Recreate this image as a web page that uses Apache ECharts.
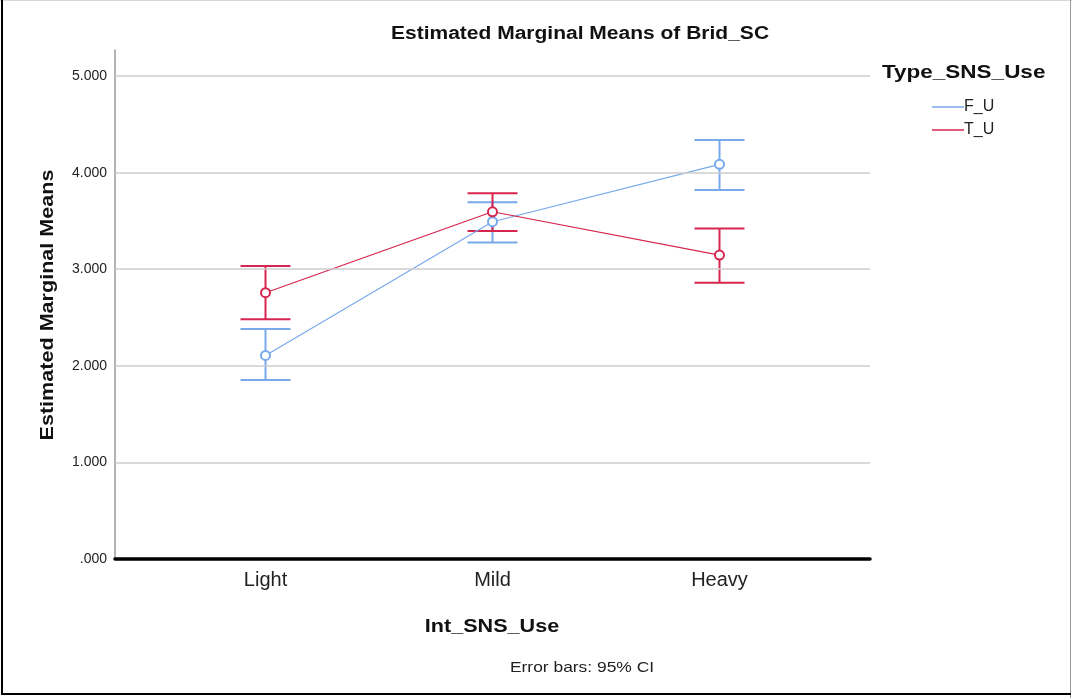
<!DOCTYPE html>
<html>
<head>
<meta charset="utf-8">
<script src="https://cdn.jsdelivr.net/npm/echarts@6/dist/echarts.min.js"></script>
<style>
  html, body { margin: 0; padding: 0; background: #fff; }
  #chart { width: 1072px; height: 698px; }
</style>
</head>
<body>
<div id="chart"></div>
<script>
// Int_SNS_Use levels on the x axis
const categories = ['Light', 'Mild', 'Heavy'];
const groupNames = ['F_U', 'T_U'];

// Estimated marginal means of Brid_SC with 95% CI bounds
const fuMean  = [2.108, 3.492, 4.086];
const fuLower = [1.853, 3.278, 3.820];
const fuUpper = [2.381, 3.693, 4.337];

const tuMean  = [2.757, 3.595, 3.147];
const tuLower = [2.481, 3.395, 2.860];
const tuUpper = [3.033, 3.786, 3.423];

const yTicks = [0, 1, 2, 3, 4, 5];
const gridValues = [1, 2, 3, 4, 5];

const BLUE = '#78a9ea';
const RED = '#d6254e';
const FONT = '"Liberation Sans", Arial, sans-serif';

function fmtTick(v) {
  const s = v.toFixed(3);
  return s.startsWith('0.') ? s.slice(1) : s;
}

function pointData(means) {
  return means.map((m, i) => [i + 1, m]);
}
function barData(lower, upper) {
  return lower.map((lo, i) => [i + 1, lo, upper[i]]);
}

function errorBar(color) {
  return function (params, api) {
    const x = api.value(0);
    const lo = api.coord([x, api.value(1)]);
    const hi = api.coord([x, api.value(2)]);
    const w = 25;
    const style = { stroke: color, lineWidth: 2 };
    return {
      type: 'group',
      children: [
        { type: 'line', shape: { x1: lo[0], y1: lo[1], x2: hi[0], y2: hi[1] }, style },
        { type: 'line', shape: { x1: hi[0] - w, y1: hi[1], x2: hi[0] + w, y2: hi[1] }, style },
        { type: 'line', shape: { x1: lo[0] - w, y1: lo[1], x2: lo[0] + w, y2: lo[1] }, style }
      ]
    };
  };
}

// stretched text label drawn as a graphic element
function label(text, x, y, size, bold, stretch, align, rotation) {
  return {
    type: 'text', x, y, scaleX: stretch, scaleY: 1, rotation: rotation || 0,
    style: {
      text, fontFamily: FONT, fontSize: size, fontWeight: bold ? 'bold' : 'normal',
      fill: bold ? '#111' : '#222', textAlign: align || 'center', textVerticalAlign: 'middle'
    }
  };
}

const chart = echarts.init(document.getElementById('chart'), null, { renderer: 'canvas' });

chart.setOption({
  backgroundColor: '#fff',
  animation: false,
  legend: {
    data: groupNames,
    orient: 'vertical',
    left: 927, top: 94,
    icon: 'rect',
    itemWidth: 32, itemHeight: 1.5,
    itemGap: 7,
    textStyle: { fontFamily: FONT, fontSize: 16, lineHeight: 16, color: '#222', padding: [0, 0, 0, -5] }
  },
  grid: { left: 115, right: 202, top: 50, bottom: 139 },
  xAxis: {
    type: 'value',
    min: 0.337, max: 3.663,
    axisLine: { show: true, lineStyle: { color: '#000', width: 3.5 } },
    axisTick: { show: false },
    splitLine: { show: false },
    axisLabel: {
      customValues: [1, 2, 3],
      formatter: v => categories[Math.round(v) - 1] || '',
      fontFamily: FONT, fontSize: 20, color: '#222', margin: 11
    }
  },
  yAxis: {
    type: 'value',
    min: 0, max: 5.27,
    axisLine: { show: true, onZero: false, lineStyle: { color: '#9a9a9a', width: 1.5 } },
    axisTick: { show: false },
    splitLine: { show: false },
    axisLabel: {
      customValues: yTicks,
      formatter: v => fmtTick(v),
      fontFamily: FONT, fontSize: 14, color: '#222', margin: 8
    }
  },
  graphic: [
    label('Estimated Marginal Means of Brid_SC', 580, 34, 17.5, true, 1.2),
    label('Estimated Marginal Means', 48, 305, 18.6, true, 1.16, 'center', Math.PI / 2),
    label('Int_SNS_Use', 492, 627, 18.6, true, 1.16),
    label('Error bars: 95% CI', 582, 668, 15, false, 1.16),
    label('Type_SNS_Use', 882, 73, 18.6, true, 1.21, 'left'),
    // frame around the chart
    { type: 'line', shape: { x1: 0, y1: 0.5, x2: 1072, y2: 0.5 }, style: { stroke: '#d8d8d8', lineWidth: 1 } },
    { type: 'line', shape: { x1: 1070.5, y1: 0, x2: 1070.5, y2: 698 }, style: { stroke: '#9a9a9a', lineWidth: 1 } },
    { type: 'line', shape: { x1: 2, y1: 0, x2: 2, y2: 695 }, style: { stroke: '#000', lineWidth: 2 } },
    { type: 'line', shape: { x1: 1, y1: 694, x2: 1071, y2: 694 }, style: { stroke: '#000', lineWidth: 2 } }
  ],
  series: [
    {
      name: 'gridlines', type: 'line', data: [], silent: true,
      markLine: {
        silent: true, symbol: 'none', label: { show: false },
        lineStyle: { color: '#cccccc', width: 1.5, type: 'solid' },
        data: gridValues.map(v => ({ yAxis: v }))
      },
      z: 1
    },
    {
      name: 'F_U CI', type: 'custom', renderItem: errorBar(BLUE),
      data: barData(fuLower, fuUpper), z: 3, silent: true
    },
    {
      name: 'T_U CI', type: 'custom', renderItem: errorBar(RED),
      data: barData(tuLower, tuUpper), z: 3, silent: true
    },
    {
      name: 'F_U', type: 'line', data: pointData(fuMean), color: BLUE,
      symbol: 'emptyCircle', symbolSize: 9,
      lineStyle: { width: 1.2, color: BLUE },
      itemStyle: { color: BLUE, borderWidth: 1.2 }, z: 4
    },
    {
      name: 'T_U', type: 'line', data: pointData(tuMean), color: RED,
      symbol: 'emptyCircle', symbolSize: 9,
      lineStyle: { width: 1.2, color: RED },
      itemStyle: { color: RED, borderWidth: 1.2 }, z: 4
    }
  ]
});
</script>
</body>
</html>
